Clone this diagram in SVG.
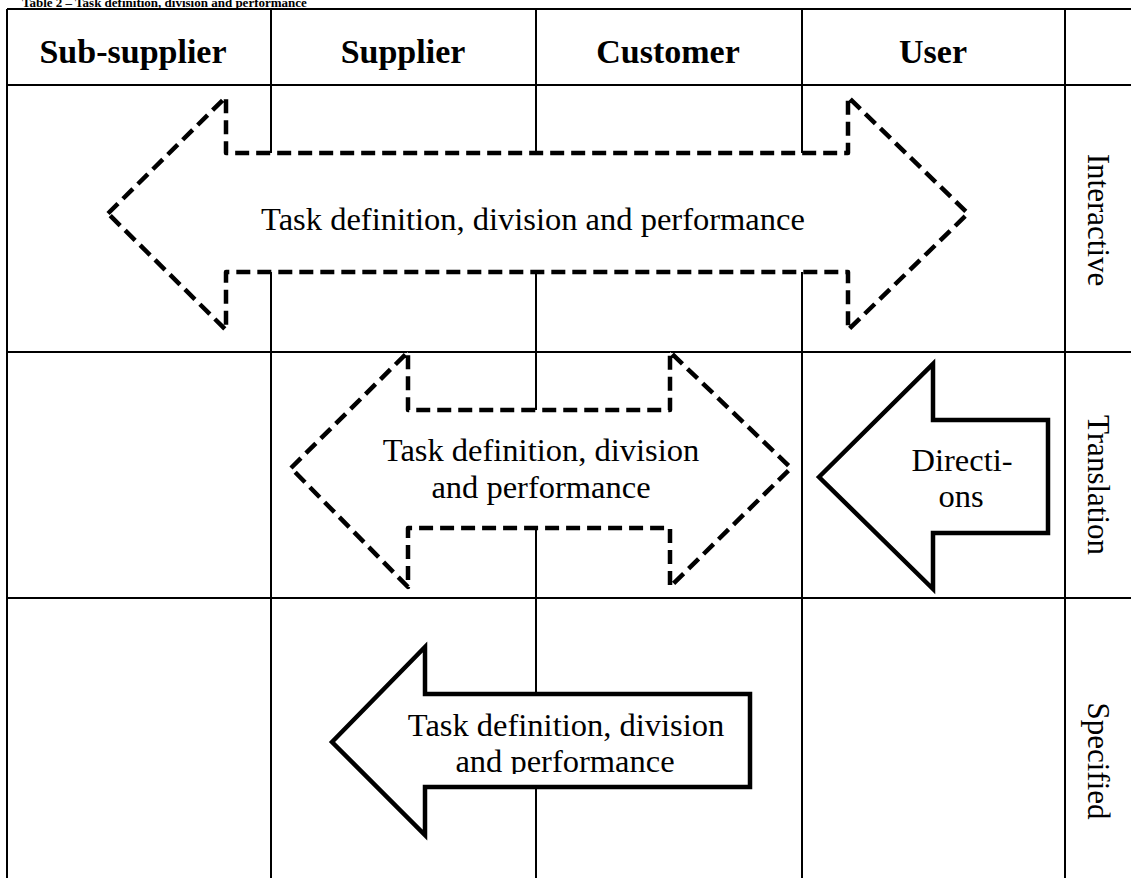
<svg xmlns="http://www.w3.org/2000/svg" width="1131" height="878" viewBox="0 0 1131 878">
  <style>
    .grid { stroke: #000; stroke-width: 2; fill: none; }
    .head { font-family: "Liberation Serif", "Times New Roman", serif; font-weight: bold; font-size: 34px; fill: #000; text-anchor: middle; }
    .cap { font-family: "Liberation Serif", "Times New Roman", serif; font-weight: bold; font-size: 13px; fill: #000; }
    .body { font-family: "Liberation Serif", "Times New Roman", serif; font-size: 32.5px; fill: #000; text-anchor: middle; }
    .side { font-family: "Liberation Serif", "Times New Roman", serif; font-size: 31px; fill: #000; text-anchor: middle; }
    .dash { fill: #fff; stroke: #000; stroke-width: 4.5; stroke-dasharray: 14 7; stroke-linejoin: round; }
    .solid { fill: #fff; stroke: #000; stroke-width: 4.5; stroke-linejoin: miter; }
  </style>
  <defs>
    <clipPath id="box3">
      <rect x="400" y="700" width="340" height="74"/>
    </clipPath>
  </defs>
  <rect width="1131" height="878" fill="#fff"/>

  <!-- caption, partly above the page edge -->
  <text class="cap" x="22" y="7">Table 2 – Task definition, division and performance</text>

  <!-- table grid -->
  <g id="table" class="grid">
    <line x1="7" y1="9" x2="1131" y2="9"/>
    <line x1="7" y1="85" x2="1131" y2="85"/>
    <line x1="7" y1="352" x2="1131" y2="352"/>
    <line x1="7" y1="598" x2="1131" y2="598"/>
    <line x1="7" y1="9" x2="7" y2="878"/>
    <line x1="271" y1="9" x2="271" y2="878"/>
    <line x1="536" y1="9" x2="536" y2="878"/>
    <line x1="802" y1="9" x2="802" y2="878"/>
    <line x1="1065" y1="9" x2="1065" y2="878"/>
  </g>

  <!-- column headers -->
  <g id="headers">
    <text class="head" x="133" y="63">Sub-supplier</text>
    <text class="head" x="403" y="63">Supplier</text>
    <text class="head" x="668" y="63">Customer</text>
    <text class="head" x="933" y="63">User</text>
  </g>

  <!-- row labels -->
  <g id="rows">
    <text class="side" transform="translate(1088,220) rotate(90)">Interactive</text>
    <text class="side" transform="translate(1088,485) rotate(90)">Translation</text>
    <text class="side" transform="translate(1088,761) rotate(90)">Specified</text>
  </g>

  <g id="connectors">
    <!-- interactive: two-way dashed arrow across all parties -->
    <g id="arrow-interactive">
      <path class="dash" d="M108,213.5 L226,97 L226,153 L848,153 L848,97 L968,213.5 L848,330 L848,272 L226,272 L226,330 Z"/>
      <text class="body" x="533" y="230">Task definition, division and performance</text>
    </g>

    <!-- translation: two-way dashed arrow between supplier and customer -->
    <g id="arrow-translation">
      <path class="dash" d="M291,468 L408,352 L408,410 L670,410 L670,352 L791,468 L670,587 L670,528 L408,528 L408,587 Z"/>
      <text class="body" x="541" y="461">Task definition, division</text>
      <text class="body" x="541" y="498">and performance</text>
    </g>

    <!-- translation: directions from user -->
    <g id="arrow-directions">
      <path class="solid" d="M819,477 L933,364 L933,420 L1048,420 L1048,533 L933,533 L933,589 Z"/>
      <text class="body" x="962" y="471">Directi-</text>
      <text class="body" x="961" y="507">ons</text>
    </g>

    <!-- specified: one-way arrow from customer to supplier -->
    <g id="arrow-specified">
      <path class="solid" d="M332,742 L425,647 L425,694 L750,694 L750,787 L425,787 L425,835 Z"/>
      <g clip-path="url(#box3)">
        <text class="body" x="566" y="736">Task definition, division</text>
        <text class="body" x="565" y="772">and performance</text>
      </g>
    </g>
  </g>
</svg>
